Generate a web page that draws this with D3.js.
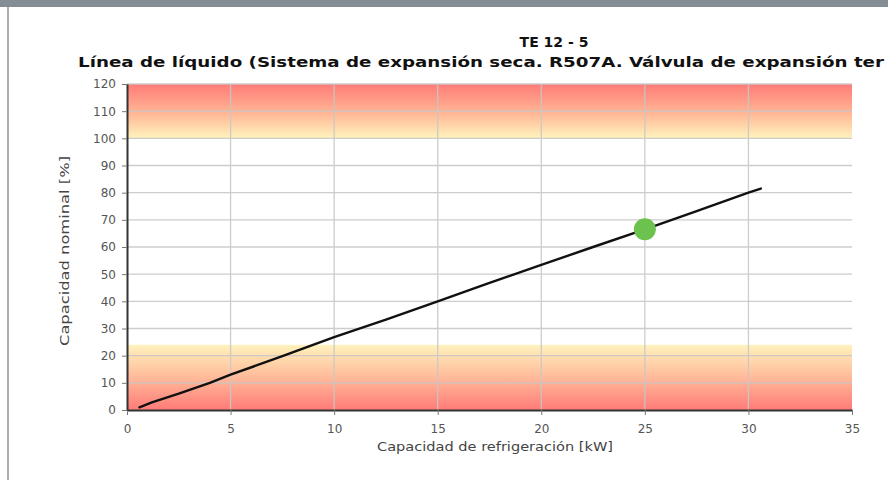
<!DOCTYPE html>
<html><head><meta charset="utf-8">
<script src="https://cdn.jsdelivr.net/npm/d3@7"></script>
<style>body{margin:0;background:#fff;overflow:hidden}svg{display:block}</style>
</head><body>
<svg id="c" width="888" height="480"></svg>
<script>
const titleLines = ["TE 12 - 5", "Línea de líquido (Sistema de expansión seca. R507A. Válvula de expansión ter"];
const xLabel = "Capacidad de refrigeración [kW]";
const yLabel = "Capacidad nominal [%]";
const xTicks = [0, 5, 10, 15, 20, 25, 30, 35];
const yTicks = [0, 10, 20, 30, 40, 50, 60, 70, 80, 90, 100, 110, 120];
const lineX = [0.6, 1.2, 2.5, 4, 5, 7.5, 10, 12.5, 15, 17.5, 20, 22.5, 25, 27.5, 30, 30.6];
const lineY = [1, 2.8, 6, 10, 13, 19.8, 26.8, 33.3, 40, 46.8, 53.4, 60, 66.5, 73.2, 80, 81.5];
const pointX = [25];
const pointY = [66.5];
const bandLow = [0, 24];
const bandHigh = [100, 120];

const svg = d3.select("#c");
const L = 127, R = 852, T = 84, B = 410;
const x = d3.scaleLinear().domain([0, 35]).range([L, R]);
const y = d3.scaleLinear().domain([0, 120]).range([B, T]);

// frame
svg.append("rect").attr("x", 0).attr("y", 0).attr("width", 888).attr("height", 7).attr("fill", "#858d95");
svg.append("rect").attr("x", 7).attr("y", 7).attr("width", 2).attr("height", 473).attr("fill", "#a9aeb3");

const defs = svg.append("defs");
const gHi = defs.append("linearGradient").attr("id", "gHi").attr("x1", 0).attr("y1", 0).attr("x2", 0).attr("y2", 1);
gHi.append("stop").attr("offset", "0%").attr("stop-color", "#ff7b78");
gHi.append("stop").attr("offset", "55%").attr("stop-color", "#ffb895");
gHi.append("stop").attr("offset", "100%").attr("stop-color", "#fff4bd");
const gLo = defs.append("linearGradient").attr("id", "gLo").attr("x1", 0).attr("y1", 0).attr("x2", 0).attr("y2", 1);
gLo.append("stop").attr("offset", "0%").attr("stop-color", "#fff2bd");
gLo.append("stop").attr("offset", "45%").attr("stop-color", "#ffc09d");
gLo.append("stop").attr("offset", "100%").attr("stop-color", "#ff7b78");

svg.append("rect").attr("x", x(0)).attr("y", y(bandHigh[1])).attr("width", x(35) - x(0))
  .attr("height", y(bandHigh[0]) - y(bandHigh[1])).attr("fill", "url(#gHi)");
svg.append("rect").attr("x", x(0)).attr("y", y(bandLow[1])).attr("width", x(35) - x(0))
  .attr("height", y(bandLow[0]) - y(bandLow[1])).attr("fill", "url(#gLo)");

// grid
const grid = svg.append("g").attr("stroke", "#c8c8c8").attr("stroke-width", 1.3).attr("opacity", 0.9);
yTicks.slice(1).forEach(v => grid.append("line").attr("x1", L).attr("x2", R).attr("y1", y(v)).attr("y2", y(v)));
xTicks.slice(1, -1).forEach(v => grid.append("line").attr("y1", T).attr("y2", B).attr("x1", x(v)).attr("x2", x(v)));

// axes
const font = "'DejaVu Sans', Verdana, sans-serif";
const xa = svg.append("g").attr("transform", `translate(0,${B})`)
  .call(d3.axisBottom(x).tickValues(xTicks).tickSize(5).tickPadding(9).tickSizeOuter(0));
const ya = svg.append("g").attr("transform", `translate(${L},0)`)
  .call(d3.axisLeft(y).tickValues(yTicks).tickSize(5).tickPadding(6).tickSizeOuter(0));
[xa, ya].forEach(a => {
  a.select(".domain").attr("stroke", "#333").attr("stroke-width", 2);
  a.selectAll(".tick line").attr("stroke", "#777");
  a.selectAll("text").attr("fill", "#555").style("font-family", font).style("font-size", "12px");
});

// line
const pts = lineX.map((v, i) => [v, lineY[i]]);
svg.append("path").datum(pts).attr("fill", "none").attr("stroke", "#111").attr("stroke-width", 2.4)
  .attr("stroke-linejoin", "round").attr("stroke-linecap", "round")
  .attr("d", d3.line().x(d => x(d[0])).y(d => y(d[1])));

svg.selectAll(".pt").data(pointX).enter().append("circle")
  .attr("cx", d => x(d)).attr("cy", (d, i) => y(pointY[i])).attr("r", 11).attr("fill", "#6cc24e");

// titles
svg.append("text").attr("x", 554).attr("y", 47).attr("text-anchor", "middle")
  .style("font-family", font).style("font-weight", "bold").style("font-size", "14px").attr("fill", "#111").text(titleLines[0]);
svg.append("text").attr("x", 78).attr("y", 67)
  .attr("textLength", 806).attr("lengthAdjust", "spacingAndGlyphs")
  .style("font-family", font).style("font-weight", "bold").style("font-size", "14.5px").attr("fill", "#111").text(titleLines[1]);

svg.append("text").attr("x", 495).attr("y", 451).attr("text-anchor", "middle")
  .attr("textLength", 236).attr("lengthAdjust", "spacingAndGlyphs")
  .style("font-family", font).style("font-size", "12.5px").attr("fill", "#444").text(xLabel);
svg.append("text").attr("transform", "translate(69,251) rotate(-90)").attr("text-anchor", "middle")
  .attr("textLength", 190).attr("lengthAdjust", "spacingAndGlyphs")
  .style("font-family", font).style("font-size", "12.5px").attr("fill", "#444").text(yLabel);
</script>
</body></html>
